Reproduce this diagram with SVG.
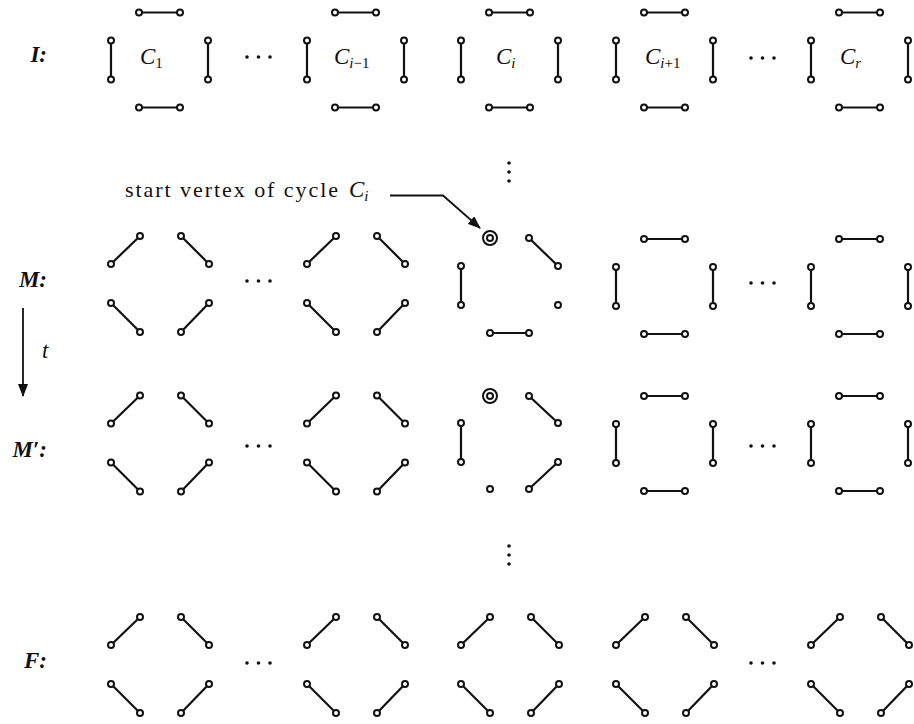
<svg xmlns="http://www.w3.org/2000/svg" xmlns:xlink="http://www.w3.org/1999/xlink" width="914" height="724" viewBox="0 0 914 724">
  <style>
    .edge { stroke: #111; stroke-width: 2.2; fill: none; stroke-linecap: round; }
    .v { fill: #fff; stroke: #111; stroke-width: 2; }
    .dot { fill: #111; }
    .math { font-family: "Liberation Serif", "DejaVu Serif", serif; font-style: italic; font-size: 23px; fill: #111; }
    .lbl { font-family: "Liberation Serif", "DejaVu Serif", serif; font-style: italic; font-weight: bold; font-size: 23px; fill: #111; }
    .txt { font-family: "Liberation Serif", "DejaVu Serif", serif; font-size: 22px; fill: #111; }
    .sub { font-size: 15px; }
    .rm { font-style: normal; }
    .conn { stroke: #111; stroke-width: 1.8; fill: none; }
  </style>
  <defs>
    <!-- cycle drawn as four separate edges: a square -->
    <g id="rectCycle">
      <line class="edge" x1="28" y1="0" x2="69" y2="0"/>
      <line class="edge" x1="0" y1="28" x2="0" y2="67"/>
      <line class="edge" x1="97" y1="28" x2="97" y2="67"/>
      <line class="edge" x1="28" y1="95" x2="69" y2="95"/>
      <circle class="v" cx="28" cy="0" r="3"/>
      <circle class="v" cx="69" cy="0" r="3"/>
      <circle class="v" cx="0" cy="28" r="3"/>
      <circle class="v" cx="0" cy="67" r="3"/>
      <circle class="v" cx="97" cy="28" r="3"/>
      <circle class="v" cx="97" cy="67" r="3"/>
      <circle class="v" cx="28" cy="95" r="3"/>
      <circle class="v" cx="69" cy="95" r="3"/>
    </g>
    <!-- same eight vertices, matched along the corners -->
    <g id="diamondCycle">
      <line class="edge" x1="0" y1="28" x2="29" y2="0"/>
      <line class="edge" x1="70" y1="0" x2="98" y2="28"/>
      <line class="edge" x1="0" y1="67" x2="29" y2="96"/>
      <line class="edge" x1="70" y1="96" x2="98" y2="67"/>
      <circle class="v" cx="29" cy="0" r="3"/>
      <circle class="v" cx="70" cy="0" r="3"/>
      <circle class="v" cx="0" cy="28" r="3"/>
      <circle class="v" cx="0" cy="67" r="3"/>
      <circle class="v" cx="98" cy="28" r="3"/>
      <circle class="v" cx="98" cy="67" r="3"/>
      <circle class="v" cx="29" cy="96" r="3"/>
      <circle class="v" cx="70" cy="96" r="3"/>
    </g>
    <g id="hdots">
      <circle class="dot" cx="0" cy="0" r="1.8"/>
      <circle class="dot" cx="11.5" cy="0" r="1.8"/>
      <circle class="dot" cx="23" cy="0" r="1.8"/>
    </g>
    <g id="vdots">
      <circle class="dot" cx="0" cy="0" r="1.8"/>
      <circle class="dot" cx="0" cy="9" r="1.8"/>
      <circle class="dot" cx="0" cy="18" r="1.8"/>
    </g>
    <marker id="head" viewBox="0 0 13 10" refX="12" refY="5" markerWidth="13" markerHeight="10" markerUnits="userSpaceOnUse" orient="auto">
      <path d="M0,0 L13,5 L0,10 Z" fill="#111"/>
    </marker>
  </defs>

  <!-- row labels -->
  <text class="lbl" x="47" y="62" text-anchor="end">I:</text>
  <text class="lbl" x="47" y="287" text-anchor="end">M:</text>
  <text class="lbl" x="47" y="457" text-anchor="end">M′:</text>
  <text class="lbl" x="47" y="668" text-anchor="end">F:</text>
  <text class="math" x="42" y="358">t</text>

  <!-- row I: the cycles of the instance -->
  <g id="I-C1"><use xlink:href="#rectCycle" x="111" y="12.5"/>
    <text class="math" x="140" y="64">C<tspan class="sub rm" dy="4">1</tspan></text></g>
  <g id="I-Cim1"><use xlink:href="#rectCycle" x="307" y="12.5"/>
    <text class="math" x="334" y="64">C<tspan class="sub" dy="4">i<tspan class="rm">−1</tspan></tspan></text></g>
  <g id="I-Ci"><use xlink:href="#rectCycle" x="461" y="12.5"/>
    <text class="math" x="496" y="64">C<tspan class="sub" dy="4">i</tspan></text></g>
  <g id="I-Cip1"><use xlink:href="#rectCycle" x="616" y="12.5"/>
    <text class="math" x="645" y="64">C<tspan class="sub" dy="4">i<tspan class="rm">+1</tspan></tspan></text></g>
  <g id="I-Cr"><use xlink:href="#rectCycle" x="811" y="12.5"/>
    <text class="math" x="840" y="64">C<tspan class="sub" dy="4">r</tspan></text></g>
  <use xlink:href="#hdots" x="247" y="57"/>
  <use xlink:href="#hdots" x="751" y="58"/>

  <use xlink:href="#vdots" x="509" y="163"/>

  <!-- row M -->
  <g id="M-1"><use xlink:href="#diamondCycle" x="111" y="236"/></g>
  <g id="M-2"><use xlink:href="#diamondCycle" x="307" y="236"/></g>
  <g id="M-i">
    <line class="edge" x1="529" y1="238" x2="558" y2="266"/>
    <line class="edge" x1="461" y1="266" x2="461" y2="305"/>
    <line class="edge" x1="490" y1="333" x2="529" y2="333"/>
    <circle class="v" cx="490" cy="238" r="7"/>
    <circle class="v" cx="490" cy="238" r="3"/>
    <circle class="v" cx="529" cy="238" r="3"/>
    <circle class="v" cx="558" cy="266" r="3"/>
    <circle class="v" cx="461" cy="266" r="3"/>
    <circle class="v" cx="461" cy="305" r="3"/>
    <circle class="v" cx="558" cy="305" r="3"/>
    <circle class="v" cx="490" cy="333" r="3"/>
    <circle class="v" cx="529" cy="333" r="3"/>
  </g>
  <g id="M-4"><use xlink:href="#rectCycle" x="616" y="239"/></g>
  <g id="M-5"><use xlink:href="#rectCycle" x="811" y="239"/></g>
  <use xlink:href="#hdots" x="247" y="281"/>
  <use xlink:href="#hdots" x="751" y="283"/>

  <!-- row M' -->
  <g id="Mp-1"><use xlink:href="#diamondCycle" x="111" y="395.5"/></g>
  <g id="Mp-2"><use xlink:href="#diamondCycle" x="307" y="395.5"/></g>
  <g id="Mp-i">
    <line class="edge" x1="529" y1="396" x2="558" y2="423"/>
    <line class="edge" x1="461" y1="423" x2="461" y2="462"/>
    <line class="edge" x1="529" y1="489" x2="558" y2="462"/>
    <circle class="v" cx="490" cy="396" r="7"/>
    <circle class="v" cx="490" cy="396" r="3"/>
    <circle class="v" cx="529" cy="396" r="3"/>
    <circle class="v" cx="558" cy="423" r="3"/>
    <circle class="v" cx="461" cy="423" r="3"/>
    <circle class="v" cx="461" cy="462" r="3"/>
    <circle class="v" cx="558" cy="462" r="3"/>
    <circle class="v" cx="490" cy="489" r="3"/>
    <circle class="v" cx="529" cy="489" r="3"/>
  </g>
  <g id="Mp-4"><use xlink:href="#rectCycle" x="616" y="396"/></g>
  <g id="Mp-5"><use xlink:href="#rectCycle" x="811" y="396"/></g>
  <use xlink:href="#hdots" x="247" y="446"/>
  <use xlink:href="#hdots" x="751" y="446"/>

  <use xlink:href="#vdots" x="509" y="546"/>

  <!-- row F -->
  <g id="F-1"><use xlink:href="#diamondCycle" x="111" y="617"/></g>
  <g id="F-2"><use xlink:href="#diamondCycle" x="307" y="617"/></g>
  <g id="F-3"><use xlink:href="#diamondCycle" x="461" y="617"/></g>
  <g id="F-4"><use xlink:href="#diamondCycle" x="616" y="617"/></g>
  <g id="F-5"><use xlink:href="#diamondCycle" x="811" y="617"/></g>
  <use xlink:href="#hdots" x="247" y="663"/>
  <use xlink:href="#hdots" x="751" y="663"/>

  <!-- annotation -->
  <g id="note">
    <text class="txt" x="125" y="197" textLength="213" lengthAdjust="spacing">start vertex of cycle</text>
    <text class="math" x="349" y="197" font-size="23">C<tspan class="sub" dy="4">i</tspan></text>
  </g>

  <!-- connectors -->
  <g id="connectors">
    <polyline class="conn" points="390,195.5 443,195.5 480,228" marker-end="url(#head)"/>
    <line class="conn" x1="23" y1="308" x2="23" y2="396" marker-end="url(#head)"/>
  </g>
</svg>
